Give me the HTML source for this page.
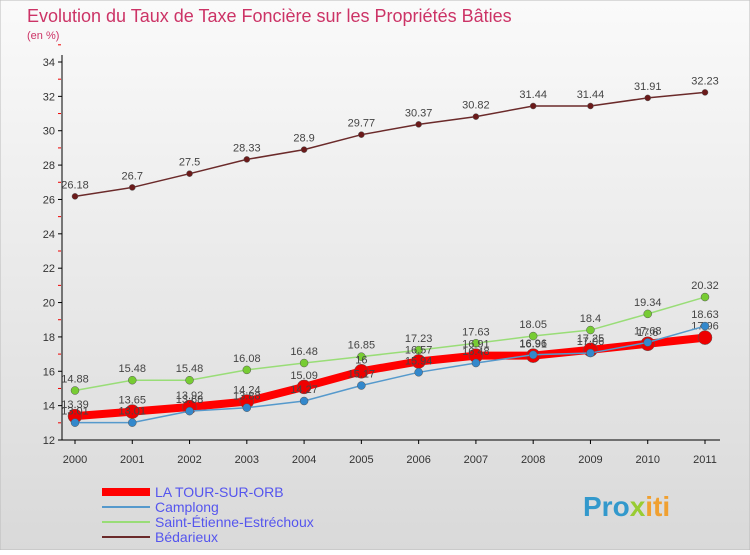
<!DOCTYPE html>
<html><head><meta charset="utf-8"><style>
body{margin:0;width:750px;height:550px;overflow:hidden;font-family:"Liberation Sans",sans-serif}
</style></head><body>
<svg width="750" height="550" xmlns="http://www.w3.org/2000/svg">
<defs><linearGradient id="bg" x1="0" y1="0" x2="0" y2="1"><stop offset="0" stop-color="#fafafa"/><stop offset="1" stop-color="#d9d9d9"/></linearGradient></defs>
<rect x="0" y="0" width="750" height="550" fill="url(#bg)" stroke="#bbb"/>
<text x="27" y="22" font-size="18" fill="#cc3366">Evolution du Taux de Taxe Foncière sur les Propriétés Bâties</text>
<text x="27" y="39" font-size="11" fill="#cc3366">(en %)</text>
<g id="axes"></g><g id="series"></g><g id="legend"></g>
<text x="583" y="516" font-size="28" font-weight="bold" fill="#f0a030"><tspan fill="#3399cc">Pro</tspan><tspan fill="#99cc33">x</tspan><tspan fill="#f0a030">iti</tspan></text>
</svg>
<script>
const years=[2000,2001,2002,2003,2004,2005,2006,2007,2008,2009,2010,2011];
const yTicks=[12,14,16,18,20,22,24,26,28,30,32,34];
const laTour=[13.39,13.65,13.92,14.24,15.09,16.0,16.57,16.91,16.91,17.25,17.6,17.96];
const camplong=[13.01,13.01,13.68,13.88,14.27,15.17,15.94,16.48,16.96,17.06,17.68,18.63];
const stEtienne=[14.88,15.48,15.48,16.08,16.48,16.85,17.23,17.63,18.05,18.4,19.34,20.32];
const bedarieux=[26.18,26.7,27.5,28.33,28.9,29.77,30.37,30.82,31.44,31.44,31.91,32.23];
const NS="http://www.w3.org/2000/svg";
function X(i){return 75+i*(630/11);}
function Y(v){return 440-(v-12)*(378/22);}
function mk(t,a,p){const e=document.createElementNS(NS,t);for(const k in a)e.setAttribute(k,a[k]);p.appendChild(e);return e;}
const ax=document.getElementById('axes');
let l=mk('line',{x1:62,y1:55,x2:62,y2:440,stroke:'#000'},ax);


l=mk('line',{x1:62,y1:440,x2:720,y2:440,stroke:'#000'},ax);


yTicks.forEach(v=>{mk('line',{x1:58,y1:Y(v),x2:62,y2:Y(v),stroke:'#000'},ax);
 mk('line',{x1:58,y1:Y(v+1),x2:61,y2:Y(v+1),stroke:'#e00'},ax);
 const t=mk('text',{x:55,y:Y(v)+4,'font-size':11,'text-anchor':'end',fill:'#333'},ax);t.textContent=v;
 
 });
years.forEach((y,i)=>{mk('line',{x1:X(i),y1:440,x2:X(i),y2:444,stroke:'#000'},ax);
 const t=mk('text',{x:X(i),y:463,'font-size':11,'text-anchor':'middle',fill:'#333'},ax);t.textContent=y;
 
 });
const sg=document.getElementById('series');
function series(d,color,w,r,fill,name){
 const g=mk('g',{},sg);
 
 
 mk('polyline',{points:d.map((v,i)=>X(i)+','+Y(v)).join(' '),fill:'none',stroke:color,'stroke-width':w},g);
 d.forEach((v,i)=>{const c=mk('circle',{cx:X(i),cy:Y(v),r:r,fill:fill,stroke:'#555','stroke-width':0.5},g);
  
  
  const t=mk('text',{x:X(i),y:Y(v)-8,'font-size':11,'text-anchor':'middle',fill:'#444'},g);t.textContent=v;
  
  });
}
series(bedarieux,'#6b2a2a',1.5,3,'#6b1a1a','bedarieux-series');
series(stEtienne,'#99dd77',1.5,4,'#77cc33','st-etienne-series');
series(laTour,'#ff0000',8,7,'#ee0000','la-tour-series');
series(camplong,'#5599cc',1.5,4,'#3388cc','camplong-series');
const lg=document.getElementById('legend');
const leg=[['LA TOUR-SUR-ORB','#ff0000',8],['Camplong','#5599cc',2],['Saint-Étienne-Estréchoux','#99dd77',2],['Bédarieux','#6b2a2a',2]];
leg.forEach((e,i)=>{const y=492+i*15;
 const g=mk('g',{},lg);
 
 
 mk('line',{x1:102,y1:y,x2:150,y2:y,stroke:e[1],'stroke-width':e[2]},g);
 const t=mk('text',{x:155,y:y+5,'font-size':14,fill:'#5555ee'},g);t.textContent=e[0];});
</script>
</body></html>
